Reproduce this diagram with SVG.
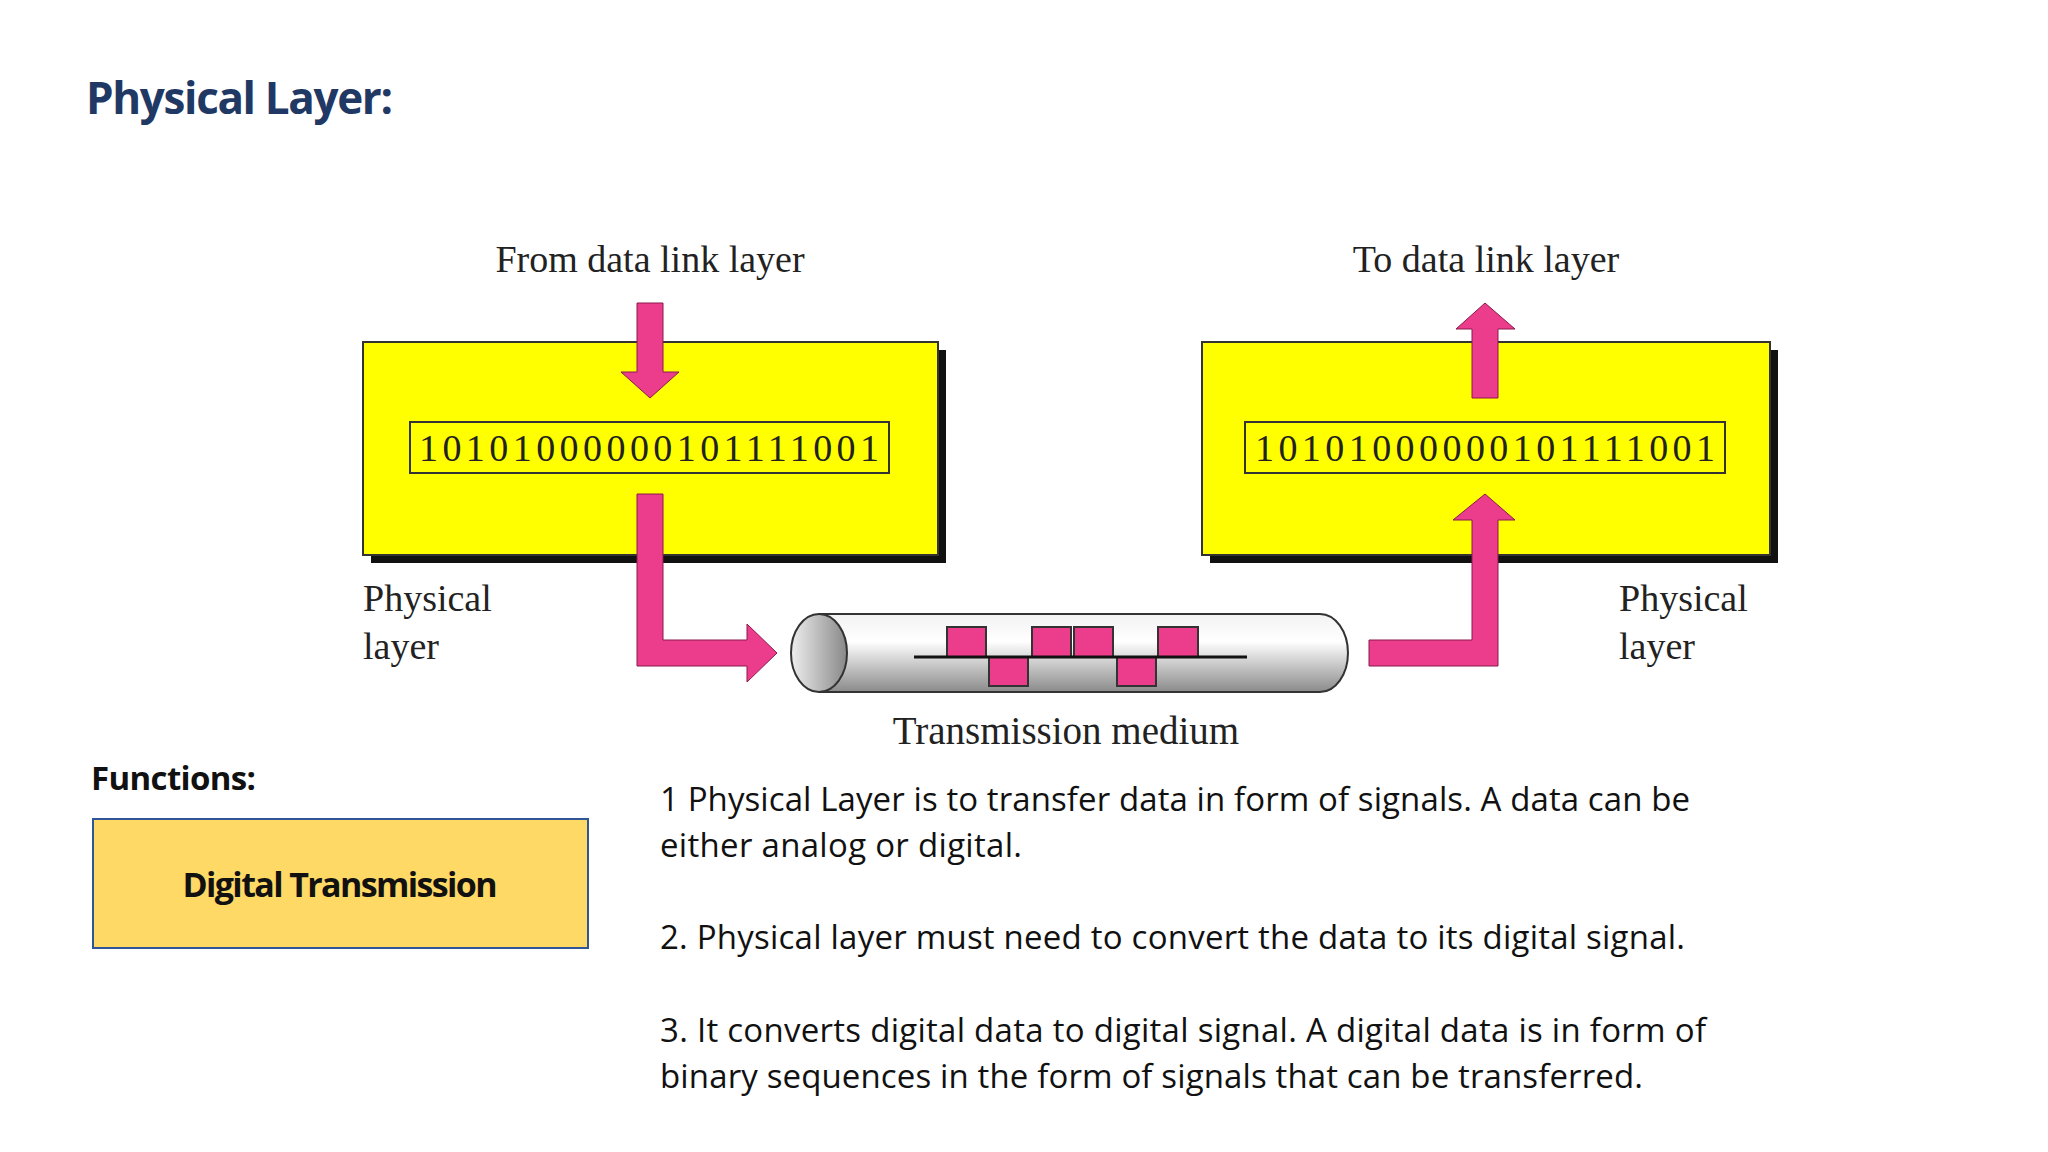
<svg xmlns="http://www.w3.org/2000/svg" width="2048" height="1152" viewBox="0 0 2048 1152">
<style>
.s{font-family:"Liberation Serif",serif;fill:#222}
.b{font-family:"Open Sans","Liberation Sans",sans-serif;fill:#111}
.p{fill:#ec3d8c;stroke:#8a1a4a;stroke-width:1}
.y{fill:#ffff00;stroke:#333;stroke-width:2}
</style>
<defs><linearGradient id="cyl" x1="0" y1="0" x2="0" y2="1"><stop offset="0" stop-color="#f2f2f2"/><stop offset="0.35" stop-color="#ffffff"/><stop offset="1" stop-color="#8a8a8a"/></linearGradient>
<linearGradient id="end" x1="0" y1="0" x2="1" y2="0"><stop offset="0" stop-color="#eee"/><stop offset="1" stop-color="#888"/></linearGradient></defs>
<rect width="2048" height="1152" fill="#fff"/>
<text x="86" y="114" font-family="Open Sans,Liberation Sans,sans-serif" font-weight="bold" font-size="44" fill="#1f3864" textLength="307">Physical Layer:</text>
<g id="left-box"><rect x="371" y="350" width="575" height="213" fill="#111"/><rect class="y" x="363" y="342" width="575" height="213"/>
<rect x="410" y="422" width="479" height="51" fill="none" stroke="#333" stroke-width="2"/>
<text class="s" x="649" y="461" font-size="38" text-anchor="middle" textLength="460">10101000000101111001</text></g>
<g id="right-box"><rect x="1210" y="350" width="568" height="213" fill="#111"/><rect class="y" x="1202" y="342" width="568" height="213"/>
<rect x="1245" y="422" width="480" height="51" fill="none" stroke="#333" stroke-width="2"/>
<text class="s" x="1485" y="461" font-size="38" text-anchor="middle" textLength="460">10101000000101111001</text></g>
<g id="medium"><path d="M819 614 H1320 A28 39 0 0 1 1320 692 H819 Z" fill="url(#cyl)" stroke="#333" stroke-width="2"/>
<ellipse cx="819" cy="653" rx="28" ry="39" fill="url(#end)" stroke="#333" stroke-width="2"/>
<g fill="#ec3d8c" stroke="#333" stroke-width="2"><rect x="947" y="627" width="39" height="30"/><rect x="1032" y="627" width="39" height="30"/><rect x="1074" y="627" width="39" height="30"/><rect x="1158" y="627" width="40" height="30"/><rect x="989" y="657" width="39" height="29"/><rect x="1117" y="657" width="39" height="29"/></g>
<line x1="914" y1="657" x2="1247" y2="657" stroke="#111" stroke-width="3"/>
<text class="s" x="1066" y="744" font-size="39" text-anchor="middle">Transmission medium</text></g>
<g id="connectors">
<path class="p" d="M637 303 H663 V372 H679 L650 398 L621 372 H637 Z"/>
<path class="p" d="M637 494 H663 V640 H747 V624 L777 653 L747 682 V666 H637 Z"/>
<path class="p" d="M1472 398 V329 H1456 L1485 303 L1515 329 H1498 V398 Z"/>
<path class="p" d="M1369 640 H1472 V520 H1453 L1485 494 L1515 520 H1498 V666 H1369 Z"/>
</g>
<g id="labels">
<text class="s" x="650" y="272" font-size="38" text-anchor="middle">From data link layer</text>
<text class="s" x="1486" y="272" font-size="38" text-anchor="middle">To data link layer</text>
<text class="s" x="363" y="611" font-size="38">Physical</text><text class="s" x="363" y="659" font-size="38">layer</text>
<text class="s" x="1619" y="611" font-size="38">Physical</text><text class="s" x="1619" y="659" font-size="38">layer</text>
</g>
<text class="b" x="91" y="790" font-size="33" font-weight="bold" textLength="165">Functions:</text>
<g id="func-box"><rect x="93" y="819" width="495" height="129" fill="#ffd966" stroke="#2f5597" stroke-width="2"/>
<text class="b" x="340" y="897" font-size="34" font-weight="bold" text-anchor="middle" textLength="315">Digital Transmission</text></g>
<g class="b" font-size="33">
<text x="660" y="811" textLength="1030">1 Physical Layer is to transfer data in form of signals. A data can be</text>
<text x="660" y="857" textLength="362">either analog or digital.</text>
<text x="660" y="949" textLength="1025">2. Physical layer must need to convert the data to its digital signal.</text>
<text x="660" y="1042" textLength="1046">3. It converts digital data to digital signal. A digital data is in form of</text>
<text x="660" y="1088" textLength="983">binary sequences in the form of signals that can be transferred.</text>
</g>
</svg>
